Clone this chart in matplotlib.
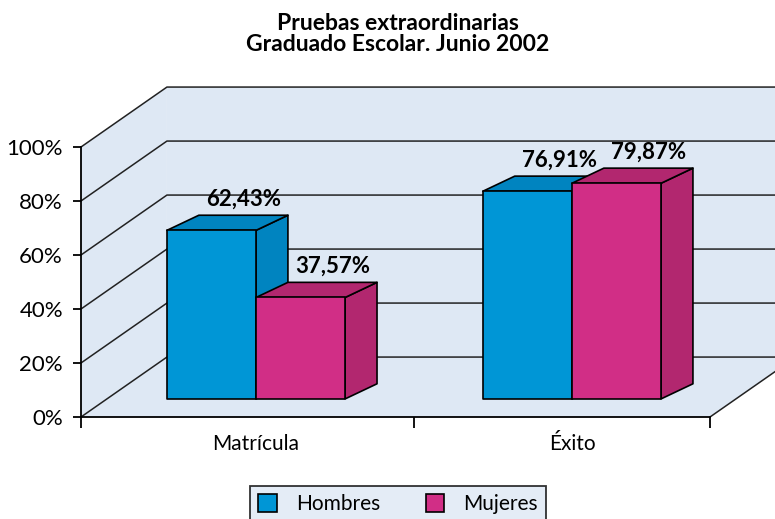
import matplotlib.pyplot as plt
import matplotlib.patches as pat

plt.rcParams['font.family'] = ['Lato', 'DejaVu Sans']

categorias = ['Matrícula', 'Éxito']
series = ['Hombres', 'Mujeres']
hombres = [62.43, 76.91]
mujeres = [37.57, 79.87]
yticks = [0, 20, 40, 60, 80, 100]
titulo = 'Pruebas extraordinarias\nGraduado Escolar. Junio 2002'

# colores (frente, lados)
col_frente = ['#0096d6', '#d12e86']
col_lado = ['#0084c0', '#b2276f']
fondo = '#dee8f4'

# geometria del falso 3D, en unidades de datos
x0, x1 = -0.554, 1.437
dxw, dyw = 0.272, 22.2      # profundidad de las paredes
dxb, dyb = 0.101, 5.6       # profundidad de las barras
base = 6.7                   # cara frontal de las barras
ancho = 0.282

fig = plt.figure(figsize=(7.75, 5.19), dpi=100)
ax = fig.add_axes([81 / 775, 102 / 519, 629 / 775, 270 / 519])
ax.set_xlim(x0, x1)
ax.set_ylim(0, 100)
ax.patch.set_alpha(0)

# paredes y suelo
pared_izq = [(x0, 0), (x0, 100), (x0 + dxw, 100 + dyw), (x0 + dxw, dyw)]
suelo = [(x0, 0), (x1, 0), (x1 + dxw, dyw), (x0 + dxw, dyw)]
pared_fondo = [(x0 + dxw, dyw), (x1 + dxw, dyw), (x1 + dxw, 100 + dyw), (x0 + dxw, 100 + dyw)]
for p in [pared_izq, suelo, pared_fondo]:
    ax.add_patch(pat.Polygon(p, closed=True, facecolor=fondo, edgecolor='none',
                             clip_on=False, zorder=0))

for v in yticks:
    ax.plot([x0, x0 + dxw, x1 + dxw], [v, v + dyw, v + dyw], color='#222222',
            lw=1.1, clip_on=False, zorder=1)
ax.plot([x1, x1 + dxw], [0, dyw], color='#222222', lw=1.1, clip_on=False, zorder=1)


def barra(xi, valor, k):
    top = base + valor
    frente = [(xi, base), (xi + ancho, base), (xi + ancho, top), (xi, top)]
    lado = [(xi + ancho, base), (xi + ancho + dxb, base + dyb),
            (xi + ancho + dxb, top + dyb), (xi + ancho, top)]
    arriba = [(xi, top), (xi + ancho, top), (xi + ancho + dxb, top + dyb), (xi + dxb, top + dyb)]
    for p, c in [(lado, col_lado[k]), (arriba, col_lado[k]), (frente, col_frente[k])]:
        ax.add_patch(pat.Polygon(p, closed=True, facecolor=c, edgecolor='black',
                                 lw=1.2, joinstyle='round', zorder=2))
    etiqueta = f'{valor:.2f}'.replace('.', ',') + '%'
    ax.text(xi + ancho / 2 + dxb, top + dyb + 6, etiqueta, ha='center', va='center',
            fontsize=16, fontweight='bold', zorder=3)


for i in range(len(categorias)):
    barra(i - ancho, hombres[i], 0)
    barra(i, mujeres[i], 1)

# ejes
for s in ['top', 'right']:
    ax.spines[s].set_visible(False)
for s in ['left', 'bottom']:
    ax.spines[s].set_linewidth(1.3)
    ax.spines[s].set_zorder(4)
ax.set_yticks(yticks)
ax.set_yticklabels([f'{v}%' for v in yticks], fontsize=16)
ax.tick_params(axis='y', direction='out', length=6, width=1.3, pad=7)
ax.set_xticks([x0, 0.5, x1])
ax.set_xticklabels([])
ax.tick_params(axis='x', which='major', direction='out', length=8, width=1.3)
ax.set_xticks(range(len(categorias)), minor=True)
ax.set_xticklabels(categorias, minor=True, fontsize=15)
ax.tick_params(axis='x', which='minor', length=0, pad=12)

fig.text(398 / 775, 1 - 34 / 519, titulo, ha='center', va='center',
         fontsize=16.5, fontweight='bold', linespacing=1.05)

handles = [pat.Patch(facecolor=col_frente[k], edgecolor='black', lw=1.2, label=series[k])
           for k in range(2)]
leg = fig.legend(handles=handles, loc='upper center', bbox_to_anchor=(398 / 775, 1 - 486 / 519),
                 ncol=2, fontsize=15, frameon=True, fancybox=False, edgecolor='black',
                 handlelength=0.9, handleheight=0.9, handletextpad=0.9, columnspacing=2.2,
                 borderpad=0.4, borderaxespad=0)
leg.get_frame().set_facecolor(fondo)
leg.get_frame().set_linewidth(1.3)

fig.savefig('out.png', dpi=100)
